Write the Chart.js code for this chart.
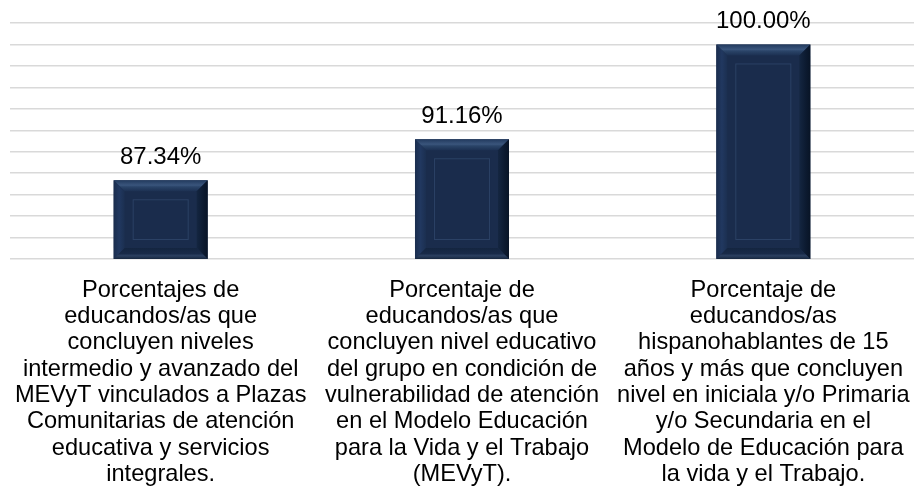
<!DOCTYPE html>
<html>
<head>
<meta charset="utf-8">
<script src="https://cdn.jsdelivr.net/npm/chart.js@4/dist/chart.umd.min.js"></script>
<style>
  html, body { margin: 0; padding: 0; background: #ffffff; }
  #wrap { width: 915px; height: 495px; position: relative; }
</style>
</head>
<body>
<div id="wrap"><canvas id="chart"></canvas></div>
<script>
// Category labels, pre-wrapped like the original
const categories = [
  ['Porcentajes de', 'educandos/as que', 'concluyen niveles', 'intermedio y avanzado del',
   'MEVyT vinculados a Plazas', 'Comunitarias de atención', 'educativa y servicios', 'integrales.'],
  ['Porcentaje de', 'educandos/as que', 'concluyen nivel educativo', 'del grupo en condición de',
   'vulnerabilidad de atención', 'en el Modelo Educación', 'para la Vida y el Trabajo', '(MEVyT).'],
  ['Porcentaje de', 'educandos/as', 'hispanohablantes de 15', 'años y más que concluyen',
   'nivel en iniciala y/o Primaria', 'y/o Secundaria en el', 'Modelo de Educación para', 'la vida y el Trabajo.']
];
const values = [87.34, 91.16, 100.00];
const yMin = 80;
const yMax = 102;
const yStep = 2;

const FONT = '"Liberation Sans", Arial, sans-serif';

// bevel look on each bar, plus the value label above it
const bevelPlugin = {
  id: 'bevel',
  afterDatasetsDraw(chart) {
    const ctx = chart.ctx;
    const meta = chart.getDatasetMeta(0);
    const yScale = chart.scales.y;
    meta.data.forEach((bar, i) => {
      const w = bar.width;
      const L = bar.x - w / 2, R = bar.x + w / 2;
      const T = bar.y, B = yScale.getPixelForValue(yMin);
      const b = 11;
      ctx.save();

      // top bevel
      let g = ctx.createLinearGradient(0, T, 0, T + b);
      g.addColorStop(0, '#223a5e');
      g.addColorStop(0.45, '#3a557c');
      g.addColorStop(0.6, '#2a4468');
      g.addColorStop(1, '#1c3052');
      ctx.fillStyle = g;
      ctx.beginPath();
      ctx.moveTo(L, T); ctx.lineTo(R, T); ctx.lineTo(R - b, T + b); ctx.lineTo(L + b, T + b);
      ctx.closePath(); ctx.fill();

      // left bevel
      g = ctx.createLinearGradient(L, 0, L + b, 0);
      g.addColorStop(0, '#1a2d4e');
      g.addColorStop(0.5, '#213860');
      g.addColorStop(1, '#1b2f50');
      ctx.fillStyle = g;
      ctx.beginPath();
      ctx.moveTo(L, T); ctx.lineTo(L + b, T + b); ctx.lineTo(L + b, B - b); ctx.lineTo(L, B);
      ctx.closePath(); ctx.fill();

      // right bevel
      g = ctx.createLinearGradient(R - b, 0, R, 0);
      g.addColorStop(0, '#142641');
      g.addColorStop(0.6, '#0c1a30');
      g.addColorStop(1, '#081426');
      ctx.fillStyle = g;
      ctx.beginPath();
      ctx.moveTo(R, T); ctx.lineTo(R, B); ctx.lineTo(R - b, B - b); ctx.lineTo(R - b, T + b);
      ctx.closePath(); ctx.fill();

      // bottom bevel
      g = ctx.createLinearGradient(0, B - b, 0, B);
      g.addColorStop(0, '#142540');
      g.addColorStop(0.5, '#182a48');
      g.addColorStop(0.7, '#2b3f5f');
      g.addColorStop(1, '#16273f');
      ctx.fillStyle = g;
      ctx.beginPath();
      ctx.moveTo(L, B); ctx.lineTo(R, B); ctx.lineTo(R - b, B - b); ctx.lineTo(L + b, B - b);
      ctx.closePath(); ctx.fill();

      // inner panel outline
      const inset = 19;
      ctx.strokeStyle = 'rgba(60, 85, 125, 0.5)';
      ctx.lineWidth = 1;
      ctx.strokeRect(L + inset + 0.5, T + inset + 0.5, w - 2 * inset - 1, B - T - 2 * inset - 1);

      // value label
      ctx.fillStyle = '#000000';
      ctx.font = '24px ' + FONT;
      ctx.textAlign = 'center';
      ctx.textBaseline = 'alphabetic';
      ctx.fillText(values[i].toFixed(2) + '%', bar.x, T - 16);
      ctx.restore();
    });
  }
};

new Chart(document.getElementById('chart'), {
  type: 'bar',
  data: {
    labels: categories,
    datasets: [{
      data: values,
      backgroundColor: '#1a2c4c',
      borderWidth: 0,
      barPercentage: 0.312,
      categoryPercentage: 1
    }]
  },
  options: {
    responsive: true,
    maintainAspectRatio: false,
    animation: false,
    layout: { padding: { left: 10, right: 1, top: 23, bottom: 0 } },
    plugins: {
      legend: { display: false },
      tooltip: { enabled: false }
    },
    scales: {
      x: {
        grid: { display: false, drawTicks: false },
        border: { display: false },
        ticks: {
          color: '#000000',
          font: { family: FONT, size: 23.6, lineHeight: 1.115 },
          padding: 18,
          maxRotation: 0,
          autoSkip: false
        },
        // long labels may overhang the edges; keep the plot full width
        afterFit(scale) {
          scale.paddingLeft = 0;
          scale.paddingRight = 0;
        }
      },
      y: {
        min: yMin,
        max: yMax,
        grid: { color: '#d9d9d9', lineWidth: 1.5, drawTicks: false },
        border: { display: false },
        ticks: { display: false, stepSize: yStep }
      }
    }
  },
  plugins: [bevelPlugin]
});
</script>
</body>
</html>
